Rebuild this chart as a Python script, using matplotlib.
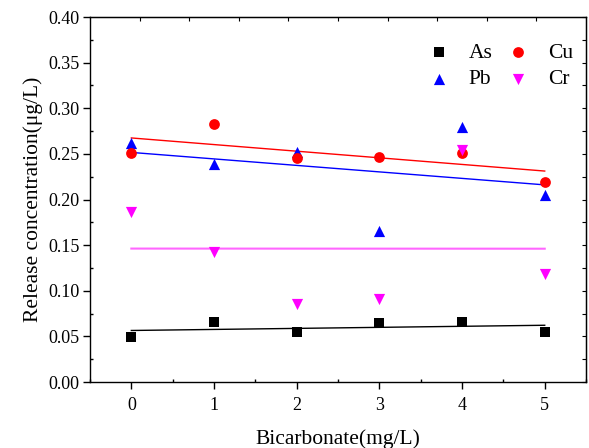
import numpy as np
import matplotlib.pyplot as plt
from matplotlib.ticker import MultipleLocator, FixedLocator

plt.rcParams['font.family'] = ['Liberation Serif', 'DejaVu Serif']

# 数据
x = [0, 1, 2, 3, 4, 5]
As = [0.049, 0.066, 0.055, 0.065, 0.066, 0.055]
Cu = [0.251, 0.283, 0.245, 0.247, 0.251, 0.219]
Pb = [0.262, 0.239, 0.252, 0.165, 0.280, 0.205]
Cr = [0.186, 0.143, 0.085, 0.091, 0.254, 0.118]

fig = plt.figure(figsize=(5.89, 4.48), dpi=100)
ax = fig.add_axes([0.1528, 0.1473, 0.8422, 0.8147])

# 图例按列排: As, Pb | Cu, Cr
series = [
    ('As', As, 's', 'black', 'black', 50),
    ('Pb', Pb, '^', 'blue', 'blue', 65),
    ('Cu', Cu, 'o', 'red', 'red', 60),
    ('Cr', Cr, 'v', 'magenta', '#ff66ff', 65),
]

xs = np.array(x, dtype=float)
for name, y, m, c, lc, s in series:
    ax.scatter(x, y, marker=m, color=c, s=s, linewidths=0, label=name, zorder=3)
    k, b = np.polyfit(xs, y, 1)
    ax.plot([xs[0], xs[-1]], [k * xs[0] + b, k * xs[-1] + b], color=lc,
            lw=1.0 if name != 'Cr' else 1.5, zorder=2)

ax.set_xlim(-0.5, 5.5)
ax.set_ylim(0, 0.40)
ax.xaxis.set_major_locator(MultipleLocator(1))
ax.xaxis.set_minor_locator(MultipleLocator(0.5))
ax.yaxis.set_major_locator(MultipleLocator(0.05))
ax.yaxis.set_minor_locator(MultipleLocator(0.025))
ax.yaxis.set_major_formatter(plt.FormatStrFormatter('%.2f'))

ax.tick_params(which='major', direction='out', length=5, width=1, labelsize=13,
               top=False, right=False)
ax.tick_params(axis='x', which='major', pad=6)
ax.tick_params(axis='y', which='major', pad=2.5)
ax.tick_params(which='minor', direction='in', length=2, width=1,
               top=False, right=False)
for sp in ax.spines.values():
    sp.set_linewidth(1.0)

# 顶部、右侧的刻度
top = ax.secondary_xaxis('top')
top.xaxis.set_major_locator(FixedLocator([-0.5 + 0.6 * i for i in range(1, 10)]))
top.tick_params(direction='in', length=3, width=0.8, labeltop=False)
top.xaxis.set_minor_locator(FixedLocator([]))
right = ax.secondary_yaxis('right')
right.yaxis.set_major_locator(MultipleLocator(0.025))
right.yaxis.set_minor_locator(FixedLocator([]))
right.tick_params(direction='in', length=3, width=0.8, labelright=False)

ax.set_xlabel('Bicarbonate(mg/L)', fontsize=15.5, labelpad=11)
ax.set_ylabel('Release concentration(μg/L)', fontsize=15.5, labelpad=4)

ax.legend(ncol=2, frameon=False, fontsize=15.5, loc='upper right',
          bbox_to_anchor=(0.975, 0.93), handletextpad=0.8, columnspacing=0.6,
          labelspacing=0.3, borderaxespad=0, borderpad=0, handlelength=1.2)

plt.savefig('out.png', dpi=100)
